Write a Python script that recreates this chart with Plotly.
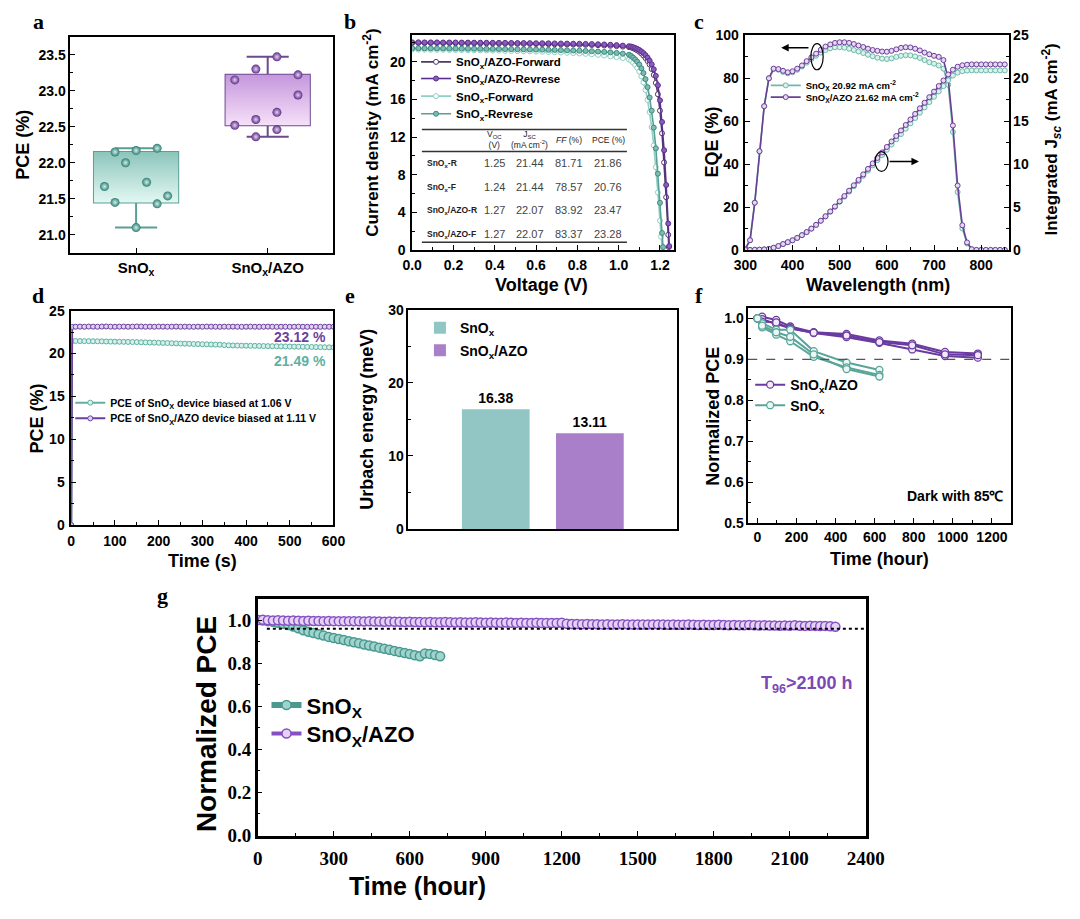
import plotly.graph_objects as go

W, H = 1080, 919
SANS = "Liberation Sans, Arial, Helvetica, sans-serif"
SERIF = "Liberation Serif, Times New Roman, serif"

# ---------------- data: panel a (box plot of PCE) ----------------
A_GROUPS = ["SnO<sub>x</sub>", "SnO<sub>x</sub>/AZO"]
A_Q1 = [21.45, 22.52]
A_MEDIAN = [21.70, 22.82]
A_Q3 = [22.15, 23.22]
A_LOW = [21.10, 22.36]
A_HIGH = [22.20, 23.47]
A_PTS_SNO = [22.15, 22.17, 22.20, 22.00, 21.67, 21.73, 21.45, 21.43, 21.54, 21.10]
A_PTS_AZO = [23.47, 23.30, 23.15, 23.22, 22.94, 22.70, 22.60, 22.52, 22.46, 22.36]
A_JIT_SNO = [-0.16, 0.0, 0.16, -0.08, -0.24, 0.08, -0.16, 0.16, 0.24, 0.0]
A_JIT_AZO = [0.07, -0.09, -0.25, 0.23, 0.23, 0.07, -0.09, -0.25, 0.07, -0.09]

# ---------------- data: panel b (J-V) ----------------
V_PLATEAU = [0.00, 0.03, 0.06, 0.09, 0.12, 0.15, 0.18, 0.21, 0.24, 0.27, 0.30, 0.33,
             0.36, 0.39, 0.42, 0.45, 0.48, 0.51, 0.54, 0.57, 0.60, 0.63, 0.66, 0.69,
             0.72, 0.75, 0.78, 0.81, 0.84, 0.87, 0.90, 0.93, 0.96, 0.99, 1.02, 1.05]
V_KNEE_AZO_R = [1.06, 1.07, 1.08, 1.09, 1.10, 1.11, 1.12, 1.13, 1.14, 1.15, 1.16, 1.17,
                1.18, 1.19, 1.20, 1.21, 1.22, 1.23, 1.24, 1.245]
V_KNEE_AZO_F = [1.06, 1.07, 1.08, 1.09, 1.10, 1.11, 1.12, 1.13, 1.14, 1.15, 1.16, 1.17,
                1.18, 1.19, 1.20, 1.21, 1.22, 1.23, 1.24, 1.243]
V_KNEE_SNO_R = [1.06, 1.07, 1.08, 1.09, 1.10, 1.11, 1.12, 1.13, 1.14, 1.15, 1.16, 1.17,
                1.18, 1.19, 1.20, 1.21, 1.215]
V_KNEE_SNO_F = [1.06, 1.07, 1.08, 1.09, 1.10, 1.11, 1.12, 1.13, 1.14, 1.15, 1.16, 1.17,
                1.18, 1.19, 1.20, 1.205, 1.21]
J_AZO_R = [22.07, 22.07, 22.06, 22.06, 22.06, 22.05, 22.05, 22.05, 22.04, 22.04, 22.03, 22.03,
           22.02, 22.02, 22.01, 22.01, 22.00, 21.99, 21.99, 21.98, 21.97, 21.97, 21.96, 21.95,
           21.94, 21.93, 21.92, 21.91, 21.90, 21.88, 21.86, 21.84, 21.81, 21.77, 21.72, 21.65,
           21.62, 21.55, 21.47, 21.37, 21.25, 21.10, 20.92, 20.70, 20.44, 20.12, 19.72, 19.20,
           18.50, 17.50, 15.90, 13.60, 10.60, 6.90, 2.80, 0.40]
J_AZO_F = [22.00, 22.00, 21.99, 21.99, 21.99, 21.98, 21.98, 21.97, 21.97, 21.96, 21.96, 21.95,
           21.95, 21.94, 21.93, 21.93, 21.92, 21.91, 21.90, 21.90, 21.89, 21.88, 21.87, 21.86,
           21.85, 21.84, 21.83, 21.81, 21.80, 21.78, 21.76, 21.73, 21.70, 21.66, 21.61, 21.56,
           21.52, 21.43, 21.33, 21.21, 21.06, 20.88, 20.66, 20.40, 20.08, 19.70, 19.22, 18.60,
           17.75, 16.55, 14.80, 12.40, 9.30, 5.60, 1.60, 0.30]
J_SNO_R = [21.44, 21.44, 21.43, 21.43, 21.42, 21.42, 21.41, 21.41, 21.40, 21.39, 21.39, 21.38,
           21.37, 21.37, 21.36, 21.35, 21.34, 21.33, 21.32, 21.31, 21.30, 21.29, 21.27, 21.26,
           21.24, 21.22, 21.20, 21.18, 21.15, 21.12, 21.09, 21.05, 21.00, 20.94, 20.86, 20.75,
           20.62, 20.45, 20.25, 20.00, 19.70, 19.30, 18.80, 18.15, 17.30, 16.20, 14.80, 13.00,
           10.80, 8.10, 5.00, 1.80, 0.30]
J_SNO_F = [21.30, 21.29, 21.29, 21.28, 21.27, 21.27, 21.26, 21.25, 21.24, 21.23, 21.22, 21.21,
           21.20, 21.19, 21.18, 21.16, 21.15, 21.13, 21.12, 21.10, 21.08, 21.06, 21.04, 21.01,
           20.98, 20.95, 20.92, 20.88, 20.84, 20.79, 20.73, 20.66, 20.58, 20.49, 20.38, 20.25,
           20.10, 19.90, 19.65, 19.35, 18.95, 18.45, 17.80, 17.00, 15.95, 14.65, 13.05, 11.10,
           8.80, 6.10, 3.10, 1.40, 0.20]
B_ROWS = ["SnO<sub>x</sub>-R", "SnO<sub>x</sub>-F", "SnO<sub>x</sub>/AZO-R", "SnO<sub>x</sub>/AZO-F"]
B_VOC = ["1.25", "1.24", "1.27", "1.27"]
B_JSC = ["21.44", "21.44", "22.07", "22.07"]
B_FF = ["81.71", "78.57", "83.92", "83.37"]
B_PCE = ["21.86", "20.76", "23.47", "23.28"]
B_HEADERS = ["V<sub>OC</sub><br>(V)", "J<sub>SC</sub><br>(mA cm<sup>-2</sup>)", "<i>FF</i> (%)", "PCE (%)"]

# ---------------- data: panel c (EQE) ----------------
WL = [300, 310, 320, 330, 340, 350, 360, 370, 380, 390, 400, 410, 420, 430, 440, 450, 460, 470,
      480, 490, 500, 510, 520, 530, 540, 550, 560, 570, 580, 590, 600, 610, 620, 630, 640, 650,
      660, 670, 680, 690, 700, 710, 720, 730, 740, 750, 760, 770, 780, 790, 800, 810, 820, 830,
      840, 850]
EQE_AZO = [0.5, 4.5, 22, 46, 67, 80, 84.5, 84.3, 83.5, 82.8, 83.3, 84.5, 86.0, 88.0, 89.8, 91.5,
           93.3, 94.8, 95.8, 96.5, 96.8, 96.8, 96.5, 96.0, 95.3, 94.6, 93.8, 93.2, 92.8, 92.5,
           92.4, 92.8, 93.5, 94.2, 94.5, 94.4, 93.8, 93.0, 92.0, 91.2, 90.5, 90.0, 88.5, 80.0,
           58.0, 30.0, 11.5, 3.5, 0.3, 0, 0, 0, 0, 0, 0, 0]
EQE_SNO = [0.5, 4.5, 22, 46, 67, 80, 84.3, 84.0, 83.0, 82.3, 82.8, 84.0, 85.5, 87.3, 89.0, 90.5,
           92.0, 93.2, 94.0, 94.5, 94.5, 94.3, 93.8, 93.2, 92.5, 91.8, 91.0, 90.3, 89.6, 89.2,
           89.0, 89.3, 90.0, 90.5, 90.8, 90.7, 90.2, 89.5, 88.5, 87.5, 86.8, 86.0, 84.5, 77.0,
           55.0, 27.0, 10.0, 3.0, 0.3, 0, 0, 0, 0, 0, 0, 0]
JINT_AZO = [0, 0, 0.01, 0.03, 0.06, 0.12, 0.25, 0.45, 0.68, 0.90, 1.12, 1.40, 1.72, 2.08, 2.48,
            2.92, 3.40, 3.92, 4.48, 5.06, 5.66, 6.28, 6.90, 7.53, 8.16, 8.80, 9.44, 10.08, 10.72,
            11.36, 12.00, 12.64, 13.28, 13.92, 14.56, 15.20, 15.85, 16.50, 17.15, 17.80, 18.45,
            19.10, 19.75, 20.45, 21.00, 21.35, 21.52, 21.59, 21.62, 21.62, 21.62, 21.62, 21.62,
            21.62, 21.62, 21.62]
JINT_SNO = [0, 0, 0.01, 0.03, 0.06, 0.12, 0.25, 0.45, 0.68, 0.90, 1.12, 1.40, 1.72, 2.08, 2.48,
            2.92, 3.39, 3.90, 4.45, 5.02, 5.60, 6.20, 6.80, 7.41, 8.02, 8.63, 9.24, 9.85, 10.46,
            11.06, 11.67, 12.28, 12.89, 13.51, 14.13, 14.75, 15.37, 15.99, 16.61, 17.23, 17.85,
            18.47, 19.09, 19.77, 20.32, 20.66, 20.83, 20.90, 20.92, 20.92, 20.92, 20.92, 20.92,
            20.92, 20.92, 20.92]

# ---------------- data: panel d (MPP tracking) ----------------
D_TIME = [0, 2, 10, 20, 30, 40, 50, 60, 70, 80, 90, 100, 110, 120, 130, 140, 150, 160, 170, 180,
          190, 200, 210, 220, 230, 240, 250, 260, 270, 280, 290, 300, 310, 320, 330, 340, 350,
          360, 370, 380, 390, 400, 410, 420, 430, 440, 450, 460, 470, 480, 490, 500, 510, 520,
          530, 540, 550, 560, 570, 580, 590, 600]
D_SNO = [0, 21.45, 21.46, 21.45, 21.44, 21.44, 21.43, 21.42, 21.42, 21.40, 21.39, 21.38, 21.37,
         21.36, 21.35, 21.34, 21.33, 21.31, 21.30, 21.28, 21.27, 21.25, 21.23, 21.22, 21.20,
         21.18, 21.16, 21.15, 21.13, 21.11, 21.10, 21.08, 21.07, 21.05, 21.04, 21.03, 20.98,
         20.95, 20.94, 20.93, 20.92, 20.91, 20.90, 20.89, 20.88, 20.87, 20.86, 20.85, 20.84,
         20.83, 20.82, 20.81, 20.80, 20.79, 20.78, 20.77, 20.76, 20.75, 20.74, 20.73, 20.72,
         20.71]
D_AZO = [0, 23.10, 23.12, 23.13, 23.12, 23.14, 23.13, 23.12, 23.14, 23.15, 23.13, 23.12, 23.13,
         23.14, 23.12, 23.13, 23.15, 23.14, 23.12, 23.13, 23.12, 23.14, 23.13, 23.12, 23.13,
         23.14, 23.12, 23.13, 23.12, 23.11, 23.13, 23.12, 23.14, 23.13, 23.12, 23.11, 23.13,
         23.12, 23.13, 23.12, 23.11, 23.12, 23.13, 23.12, 23.11, 23.12, 23.13, 23.12, 23.11,
         23.12, 23.12, 23.11, 23.12, 23.13, 23.12, 23.11, 23.12, 23.12, 23.11, 23.12, 23.12,
         23.12]

# ---------------- data: panel e (Urbach energy) ----------------
E_LABELS = ["SnO<sub>x</sub>", "SnO<sub>x</sub>/AZO"]
E_VALUES = [16.38, 13.11]

# ---------------- data: panel f (85 C dark stability) ----------------
F_TIME_AZO = [0, 24, 96, 168, 288, 456, 624, 792, 960, 1128]
F_TIME_SNO = [0, 24, 96, 168, 288, 456, 624]
F_AZO = [[1.0, 1.004, 0.996, 0.980, 0.966, 0.962, 0.946, 0.938, 0.918, 0.914],
         [1.0, 0.998, 0.986, 0.976, 0.964, 0.954, 0.940, 0.924, 0.908, 0.904],
         [1.0, 0.992, 0.990, 0.975, 0.965, 0.958, 0.942, 0.934, 0.912, 0.910]]
F_SNO = [[1.0, 0.988, 0.972, 0.972, 0.920, 0.892, 0.874],
         [1.0, 0.978, 0.960, 0.944, 0.906, 0.880, 0.862],
         [1.0, 0.982, 0.966, 0.955, 0.912, 0.876, 0.858]]
F_THRESHOLD = 0.9

# ---------------- data: panel g (long-term stability) ----------------
G_TIME_SNO = [0, 20, 40, 60, 80, 100, 120, 140, 160, 180, 200, 220, 240, 260, 280, 300, 320,
              340, 360, 380, 400, 420, 440, 460, 480, 500, 520, 540, 560, 580, 600, 620, 640,
              660, 680, 700, 720]
G_SNO = [1.000, 0.998, 0.995, 0.992, 0.988, 0.983, 0.977, 0.970, 0.962, 0.953, 0.946, 0.940,
         0.934, 0.928, 0.922, 0.917, 0.912, 0.907, 0.902, 0.897, 0.892, 0.887, 0.882, 0.877,
         0.872, 0.867, 0.862, 0.857, 0.852, 0.847, 0.842, 0.837, 0.832, 0.845, 0.843, 0.838,
         0.832]
G_TIME_AZO = [0, 20, 40, 60, 80, 100, 120, 140, 160, 180,
              200, 220, 240, 260, 280, 300, 320, 340, 360, 380,
              400, 420, 440, 460, 480, 500, 520, 540, 560, 580,
              600, 620, 640, 660, 680, 700, 720, 740, 760, 780,
              800, 820, 840, 860, 880, 900, 920, 940, 960, 980,
              1000, 1020, 1040, 1060, 1080, 1100, 1120, 1140, 1160, 1180,
              1200, 1220, 1240, 1260, 1280, 1300, 1320, 1340, 1360, 1380,
              1400, 1420, 1440, 1460, 1480, 1500, 1520, 1540, 1560, 1580,
              1600, 1620, 1640, 1660, 1680, 1700, 1720, 1740, 1760, 1780,
              1800, 1820, 1840, 1860, 1880, 1900, 1920, 1940, 1960, 1980,
              2000, 2020, 2040, 2060, 2080, 2100, 2120, 2140, 2160, 2180,
              2200, 2220, 2240, 2260, 2280]
G_AZO = [1.000, 1.001, 0.999, 0.998, 0.999, 0.998, 0.997, 0.998, 0.997, 0.996,
         0.997, 0.996, 0.996, 0.995, 0.996, 0.995, 0.995, 0.994, 0.995, 0.994,
         0.994, 0.993, 0.994, 0.993, 0.993, 0.992, 0.993, 0.992, 0.992, 0.991,
         0.992, 0.991, 0.991, 0.990, 0.991, 0.990, 0.990, 0.991, 0.990, 0.989,
         0.990, 0.989, 0.989, 0.990, 0.989, 0.988, 0.989, 0.988, 0.988, 0.989,
         0.988, 0.987, 0.988, 0.987, 0.987, 0.988, 0.987, 0.986, 0.987, 0.986,
         0.988, 0.983, 0.982, 0.982, 0.981, 0.982, 0.981, 0.981, 0.980, 0.981,
         0.980, 0.980, 0.981, 0.980, 0.979, 0.980, 0.979, 0.979, 0.980, 0.979,
         0.979, 0.978, 0.979, 0.978, 0.978, 0.979, 0.978, 0.977, 0.978, 0.977,
         0.977, 0.978, 0.977, 0.976, 0.977, 0.976, 0.976, 0.977, 0.976, 0.975,
         0.976, 0.975, 0.975, 0.974, 0.975, 0.974, 0.976, 0.974, 0.973, 0.974,
         0.973, 0.972, 0.973, 0.971, 0.969]
G_T96 = 0.96

# ---------------- styles ----------------
TEAL_LINE = "#5a9f96"
TEAL_DARK = "#3f8a80"
TEAL_LIGHT = "#8fd0c4"
PURP_LINE = "#6c4a90"
PURP_DARK = "#5b2f8c"


def xdom(a, b):
    return [a / W, b / W]


def ydom(top, bottom):
    return [1 - bottom / H, 1 - top / H]


def axis(domain, anchor, rng, dtick=None, minor=None, fsize=14, family=SANS, **kw):
    d = dict(domain=domain, anchor=anchor, range=rng, showline=True, mirror=True,
             linecolor="black", linewidth=1.5, ticks="inside", ticklen=5, tickwidth=1.3,
             tickcolor="black", showgrid=False, zeroline=False, fixedrange=True,
             tickfont=dict(family=family, size=fsize, color="black", weight="bold"))
    if dtick is not None:
        d["dtick"] = dtick
    if minor is not None:
        d["minor"] = dict(ticks="inside", ticklen=3, dtick=minor, tickcolor="black",
                          tickwidth=1, showgrid=False)
    d.update(kw)
    return d


legends = {}
leg_count = [0]


def new_legend(xpx, ypx, size, family=SANS):
    leg_count[0] += 1
    name = "legend" if leg_count[0] == 1 else "legend%d" % leg_count[0]
    legends[name] = dict(x=xpx / W, y=1 - ypx / H, xanchor="left", yanchor="middle",
                         bgcolor="rgba(0,0,0,0)", borderwidth=0, itemwidth=30,
                         tracegroupgap=0,
                         font=dict(family=family, size=size, color="black", weight="bold"))
    return name


fig = go.Figure()

# ---------------- panel a ----------------
BOX_W = 0.64
a_styles = [
    dict(line=TEAL_LINE, top="#8cc5bb", bot="#e2f8f2", mk="#2f7e74", mkc="#d3f1ea",
         pts=A_PTS_SNO, jit=A_JIT_SNO),
    dict(line=PURP_LINE, top="#c597dc", bot="#f6e0f9", mk="#5c2f86", mkc="#e8d2f5",
         pts=A_PTS_AZO, jit=A_JIT_AZO),
]
for i, st in enumerate(a_styles):
    xs = [i - BOX_W / 2, i + BOX_W / 2, i + BOX_W / 2, i - BOX_W / 2, i - BOX_W / 2]
    ys = [A_Q1[i], A_Q1[i], A_Q3[i], A_Q3[i], A_Q1[i]]
    fig.add_trace(go.Scatter(x=xs, y=ys, mode="lines", fill="toself", line=dict(width=0),
                             fillgradient=dict(type="vertical",
                                               colorscale=[[0, st["bot"]], [1, st["top"]]]),
                             hoverinfo="skip", showlegend=False, xaxis="x", yaxis="y"))
    fig.add_trace(go.Box(x=[i], q1=[A_Q1[i]], median=[A_MEDIAN[i]], q3=[A_Q3[i]],
                         lowerfence=[A_LOW[i]], upperfence=[A_HIGH[i]], width=BOX_W,
                         whiskerwidth=0.5, fillcolor="rgba(0,0,0,0)",
                         line=dict(color=st["line"], width=2), boxpoints=False,
                         showlegend=False, xaxis="x", yaxis="y"))
    fig.add_trace(go.Scatter(x=[i + j for j in st["jit"]], y=st["pts"], mode="markers",
                             marker=dict(size=9, color=st["mk"],
                                         gradient=dict(type="radial", color=st["mkc"]),
                                         line=dict(width=0)),
                             showlegend=False, xaxis="x", yaxis="y"))

# ---------------- panel b ----------------
b_curves = [
    ("SnO<sub>x</sub>-Forward", V_PLATEAU + V_KNEE_SNO_F, J_SNO_F, TEAL_LIGHT, "white", TEAL_LIGHT, 90),
    ("SnO<sub>x</sub>-Revrese", V_PLATEAU + V_KNEE_SNO_R, J_SNO_R, TEAL_LINE, "#7dbcb2", TEAL_DARK, 108),
    ("SnO<sub>x</sub>/AZO-Forward", V_PLATEAU + V_KNEE_AZO_F, J_AZO_F, "#4d3a62", "white", "#4d3a62", 55),
    ("SnO<sub>x</sub>/AZO-Revrese", V_PLATEAU + V_KNEE_AZO_R, J_AZO_R, PURP_DARK, "#8a5cc0", PURP_DARK, 72),
]
for name, vx, jy, lc, mfill, medge, ly in b_curves:
    lg = new_legend(416, ly, 11.5)
    fig.add_trace(go.Scatter(x=vx, y=jy, mode="lines+markers", name=name, legend=lg,
                             line=dict(color=lc, width=1.6),
                             marker=dict(size=5, color=mfill, line=dict(color=medge, width=1)),
                             xaxis="x2", yaxis="y2"))

# ---------------- panel c ----------------
c_series = [
    ("SnO<sub>X</sub> 20.92 mA cm<sup>-2</sup>", EQE_SNO, JINT_SNO, "#6fb8aa", "#d9f2ec", 79),
    ("SnO<sub>X</sub>/AZO 21.62 mA cm<sup>-2</sup>", EQE_AZO, JINT_AZO, "#6a3f96", "#e6d8f3", 91),
]
for name, eqe, jint, col, fillc, ly in c_series:
    lg = new_legend(776, ly, 9.5)
    mk = dict(size=5, color=fillc, line=dict(color=col, width=1))
    fig.add_trace(go.Scatter(x=WL, y=eqe, mode="lines+markers", name=name, legend=lg,
                             line=dict(color=col, width=1.6), marker=mk,
                             xaxis="x3", yaxis="y3"))
    fig.add_trace(go.Scatter(x=WL, y=jint, mode="lines+markers", showlegend=False,
                             line=dict(color=col, width=1.6), marker=mk,
                             xaxis="x3", yaxis="y4"))

# ---------------- panel d ----------------
d_series = [
    ("PCE of SnO<sub>X</sub> device biased at 1.06 V", D_SNO, "#5fb0a2", "#d6f1eb", 403),
    ("PCE of SnO<sub>X</sub>/AZO device biased at 1.11 V", D_AZO, "#6b3fa0", "#e2d2f2", 419),
]
for name, vals, col, fillc, ly in d_series:
    lg = new_legend(60, ly, 10.5)
    fig.add_trace(go.Scatter(x=D_TIME, y=vals, mode="lines+markers", name=name, legend=lg,
                             line=dict(color=col, width=2),
                             marker=dict(size=5, color=fillc, line=dict(color=col, width=1)),
                             xaxis="x4", yaxis="y5"))

# ---------------- panel e ----------------
e_colors = ["#92c6c4", "#a97fc9"]
e_ly = [327, 350]
for i in range(2):
    lg = new_legend(420, e_ly[i], 14)
    fig.add_trace(go.Bar(x=[i], y=[E_VALUES[i]], name=E_LABELS[i], legend=lg, width=0.72,
                         marker=dict(color=e_colors[i], line=dict(width=0)),
                         text=["%.2f" % E_VALUES[i]], textposition="outside",
                         textfont=dict(family=SANS, size=14, color="black", weight="bold"),
                         cliponaxis=False, xaxis="x5", yaxis="y6"))

# ---------------- panel f ----------------
lg_f_azo = new_legend(760, 385, 14)
lg_f_sno = new_legend(760, 406, 14)
for k, vals in enumerate(F_AZO):
    fig.add_trace(go.Scatter(x=F_TIME_AZO, y=vals, mode="lines+markers",
                             name="SnO<sub>x</sub>/AZO", legend=lg_f_azo, showlegend=(k == 0),
                             line=dict(color="#6a3aa0", width=2),
                             marker=dict(size=7, color="#f2e9fa", line=dict(color="#6a3aa0", width=1.3)),
                             xaxis="x6", yaxis="y7"))
for k, vals in enumerate(F_SNO):
    fig.add_trace(go.Scatter(x=F_TIME_SNO, y=vals, mode="lines+markers",
                             name="SnO<sub>x</sub>", legend=lg_f_sno, showlegend=(k == 0),
                             line=dict(color="#5aa59a", width=2),
                             marker=dict(size=7, color="#eaf7f4", line=dict(color="#5aa59a", width=1.3)),
                             xaxis="x6", yaxis="y7"))

# ---------------- panel g ----------------
lg_g_sno = new_legend(262, 712, 22)
lg_g_azo = new_legend(262, 741, 22)
fig.add_trace(go.Scatter(x=G_TIME_SNO, y=G_SNO, mode="lines+markers", name="SnO<sub>X</sub>",
                         legend=lg_g_sno, line=dict(color="#4a9990", width=6),
                         marker=dict(size=9, color="#9fd3cb", line=dict(color="#4a9990", width=1.5)),
                         xaxis="x7", yaxis="y8"))
fig.add_trace(go.Scatter(x=G_TIME_AZO, y=G_AZO, mode="lines+markers", name="SnO<sub>X</sub>/AZO",
                         legend=lg_g_azo, line=dict(color="#8750c2", width=4),
                         marker=dict(size=9, color="#e4d3f5", line=dict(color="#8750c2", width=1.5)),
                         xaxis="x7", yaxis="y8"))

# ---------------- axes ----------------
layout = dict(
    width=W, height=H, margin=dict(l=0, r=0, t=0, b=0),
    paper_bgcolor="white", plot_bgcolor="white", hovermode=False, showlegend=True,
    barmode="overlay",
    xaxis=axis(xdom(60, 331), "y", [-0.5, 1.5], tickvals=[0, 1], ticktext=A_GROUPS, fsize=15),
    yaxis=axis(ydom(30, 250), "x", [20.75, 23.74], dtick=0.5, minor=0.25, tickformat=".1f"),
    xaxis2=axis(xdom(412, 682), "y2", [0, 1.27], dtick=0.2, minor=0.1, tickformat=".1f",
                ticklabelstandoff=2),
    yaxis2=axis(ydom(28, 247), "x2", [0, 22.8], dtick=4, minor=2, ticklabelstandoff=2),
    xaxis3=axis(xdom(755, 1026), "y3", [300, 858], dtick=100, minor=50, ticklabelstandoff=2),
    yaxis3=axis(ydom(28, 247), "x3", [0, 100], dtick=20, minor=10, ticklabelstandoff=2),
    yaxis4=axis(ydom(28, 247), "x3", [0, 25], dtick=5, minor=2.5, overlaying="y3", side="right"),
    xaxis4=axis(xdom(61, 331), "y5", [0, 600], dtick=100, minor=50, ticklabelstandoff=2),
    yaxis5=axis(ydom(309, 528), "x4", [0, 25], dtick=5, minor=2.5, ticklabelstandoff=2),
    xaxis5=axis(xdom(408, 685), "y6", [-0.93, 1.93], ticks="", showticklabels=False),
    yaxis6=axis(ydom(308, 532), "x5", [0, 30], dtick=10, minor=5),
    xaxis6=axis(xdom(758, 1029), "y7", [-47, 1300], dtick=200, minor=100),
    yaxis7=axis(ydom(306, 526), "x6", [0.5, 1.026], dtick=0.1, minor=0.05, tickformat=".1f"),
    xaxis7=axis(xdom(253, 879), "y8", [0, 2400], dtick=300, minor=150, family=SERIF, fsize=19,
                linewidth=2.5, ticklabelstandoff=4),
    yaxis8=axis(ydom(603, 845), "x7", [0, 1.1], dtick=0.2, minor=0.1, tickformat=".1f",
                family=SERIF, fsize=19, linewidth=2.5),
)
layout.update(legends)

shapes = []
for jy in [12.8, 10.45, 0.8]:
    shapes.append(dict(type="line", xref="x2", yref="y2", x0=0.047, x1=1.04, y0=jy, y1=jy,
                       line=dict(color="#333", width=1.5)))
shapes.append(dict(type="circle", xref="x3", yref="y3", x0=439, x1=465, y0=84, y1=96.2,
                   line=dict(color="black", width=1.2)))
shapes.append(dict(type="circle", xref="x3", yref="y3", x0=575, x1=602.5, y0=36.6, y1=45.8,
                   line=dict(color="black", width=1.2)))
shapes.append(dict(type="line", xref="x6 domain", yref="y7", x0=0, x1=1, y0=F_THRESHOLD,
                   y1=F_THRESHOLD, line=dict(color="#555", width=1.2, dash="dash")))
shapes.append(dict(type="line", xref="x7 domain", yref="y8", x0=0.015, x1=1, y0=G_T96, y1=G_T96,
                   line=dict(color="black", width=2, dash="dot")))
layout["shapes"] = shapes

ann = []
for letter, xp, yp in [("a", 27, 14), ("b", 348, 14), ("c", 707, 14), ("d", 27, 294),
                       ("e", 348, 294), ("f", 707, 294), ("g", 155, 600)]:
    ann.append(dict(text=letter, x=xp / W, y=1 - yp / H, xref="paper", yref="paper",
                    showarrow=False, xanchor="center", yanchor="middle",
                    font=dict(family=SERIF, size=22, color="black", weight="bold")))

# axis titles (placed in pixel positions of the reference)
titles = [
    ("PCE (%)", 11, 140, -90, 18),
    ("Current density (mA cm<sup>-2</sup>)", 370, 127, -90, 17),
    ("Voltage (V)", 545, 283, 0, 18),
    ("EQE (%)", 721, 137, -90, 18),
    ("Integrated J<sub><i>sc</i></sub> (mA cm<sup>-2</sup>)", 1070, 134, -90, 17),
    ("Wavelength (nm)", 892, 283, 0, 18),
    ("PCE (%)", 26, 419, -90, 18),
    ("Time (s)", 196, 565, 0, 18),
    ("Urbach energy (meV)", 366, 420, -90, 18),
    ("Normalized PCE", 722, 417, -90, 18),
    ("Time (hour)", 893, 563, 0, 18),
    ("Normalized PCE", 201, 731, -90, 28),
    ("Time (hour)", 417, 897, 0, 25),
]
for txt, xp, yp, ang, sz in titles:
    ann.append(dict(text=txt, x=xp / W, y=1 - yp / H, xref="paper", yref="paper",
                    showarrow=False, xanchor="center", yanchor="middle", textangle=ang,
                    font=dict(family=SANS, size=sz, color="black", weight="bold")))

col_x = [0.40, 0.57, 0.76, 0.95]
for hx, htxt in zip(col_x, B_HEADERS):
    ann.append(dict(text=htxt, x=hx, y=11.7, xref="x2", yref="y2", showarrow=False,
                    font=dict(family=SANS, size=8.5, color="#222")))
row_y = [9.2, 6.66, 4.2, 1.68]
for r in range(4):
    ann.append(dict(text=B_ROWS[r], x=0.06, y=row_y[r], xref="x2", yref="y2", showarrow=False,
                    xanchor="left", font=dict(family=SANS, size=8.5, color="#222", weight="bold")))
    for cx, val in zip(col_x, [B_VOC[r], B_JSC[r], B_FF[r], B_PCE[r]]):
        ann.append(dict(text=val, x=cx, y=row_y[r], xref="x2", yref="y2", showarrow=False,
                        font=dict(family=SANS, size=11, color="#444")))
ann.append(dict(text="", x=376, y=94.3, ax=437, ay=94.3, xref="x3", yref="y3", axref="x3",
                ayref="y3", showarrow=True, arrowhead=2, arrowsize=1, arrowwidth=1.5,
                arrowcolor="black"))
ann.append(dict(text="", x=668, y=41.2, ax=602.5, ay=41.2, xref="x3", yref="y3", axref="x3",
                ayref="y3", showarrow=True, arrowhead=2, arrowsize=1, arrowwidth=1.5,
                arrowcolor="black"))
ann.append(dict(text="23.12 %", x=588, y=21.9, xref="x4", yref="y5", showarrow=False,
                xanchor="right", font=dict(family=SANS, size=14, color="#6b3fa0", weight="bold")))
ann.append(dict(text="21.49 %", x=588, y=19.1, xref="x4", yref="y5", showarrow=False,
                xanchor="right", font=dict(family=SANS, size=14, color="#5fb0a2", weight="bold")))
ann.append(dict(text="Dark with 85\u2103", x=1010, y=0.567, xref="x6", yref="y7", showarrow=False,
                font=dict(family=SANS, size=14, color="black", weight="bold")))
ann.append(dict(text="T<sub>96</sub>>2100 h", x=2170, y=0.70, xref="x7", yref="y8",
                showarrow=False, font=dict(family=SANS, size=18, color="#7d47b5", weight="bold")))
layout["annotations"] = ann

fig.update_layout(**layout)
fig.write_html("out.html")
